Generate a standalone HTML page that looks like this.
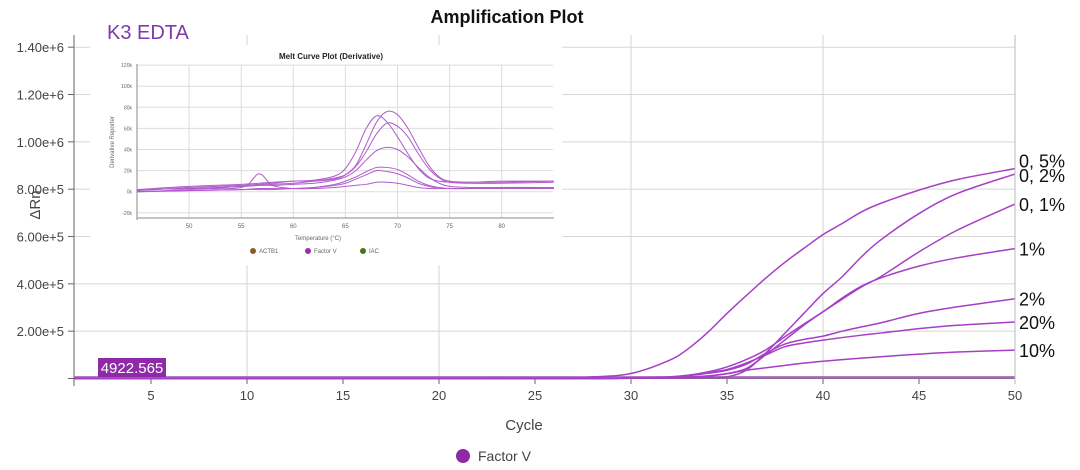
<!DOCTYPE html>
<html><head><meta charset="utf-8"><style>
body{margin:0;background:#fff;width:1080px;height:470px;overflow:hidden;font-family:"Liberation Sans",sans-serif}
svg{display:block}
</style></head><body>
<svg id="chart" width="1080" height="470"></svg>
<script>
// ---- Amplification data ----
const cycles=[1,25,28,30,32,33,34,35,36,37,38,39,40,41,42,43,45,47,50];
const seriesNames=["0, 5%","0, 2%","0, 1%","1%","2%","20%","10%"];
const s05=[0,2,7,21,77,127,195,275,350,423,490,550,608,655,704,740,796,841,887];
const s02=[0,0,0,1,2,3,5,7,35,106,190,275,359,430,514,585,697,782,864];
const s01=[0,0,0,1,3,6,11,21,42,99,162,225,282,335,387,430,535,627,737];
const s1=[0,0,0,2,6,14,28,49,80,120,176,230,282,340,390,425,475,510,549];
const s2=[0,0,0,2,6,12,22,35,60,106,145,165,179,200,218,235,275,303,337];
const s20=[0,0,0,2,7,14,25,38,65,99,134,150,162,173,183,192,211,225,239];
const s10=[0,0,0,1,3,6,10,20,35,45,55,65,73,80,86,92,103,112,120];
const yTicks=[0,200000,400000,600000,800000,1000000,1200000,1400000];
const yTickLabels=["","2.00e+5","4.00e+5","6.00e+5","8.00e+5","1.00e+6","1.20e+6","1.40e+6"];
const xTicks=[5,10,15,20,25,30,35,40,45,50];
const threshold=4922.565;
// ---- Melt data (k) ----
const temps=[45,50,55,56.7,58,60,62,64,65,66,67,68,69,70,71,72,73,74,75,77,80,85];
const mA=[1,4,6,7,8,10,10,12,16,25,45,66,76,73,60,42,25,14,10,9,10,10];
const mB=[2,5,7,8,9,10,11,15,22,38,60,72,66,52,36,22,13,10,9,9,9,10];
const mC=[0,2,5,6,7,8,10,13,16,24,38,55,65,62,52,36,22,13,9,8,8,9];
const mD=[2,3,5,6,6,7,8,11,14,20,30,39,42,40,33,23,14,8,5,4,4,4];
const mE=[0,1,2,3,3,3,4,7,10,14,19,23,23,21,16,10,6,4,3,3,3,3];
const mF=[0,1,2,2,2,3,4,6,8,12,16,20,19,17,13,8,5,3,3,3,3,3];
const mG=[2,3,4,17,6,3,3,4,5,6,7,9,9,8,6,4,3,3,3,3,4,4];
const mYTicks=[-20,0,20,40,60,80,100,120];
const mXTicks=[50,55,60,65,70,75,80];

const svg=document.getElementById('chart');const NS='http://www.w3.org/2000/svg';
function mk(tag,attrs,parent,text){const e=document.createElementNS(NS,tag);for(const k in attrs)e.setAttribute(k,attrs[k]);if(text!==undefined)e.textContent=text;(parent||svg).appendChild(e);return e;}
const X=c=>55+19.2*c, Y=v=>378.5-v*47.33/200000;
function smooth(pts){let d='M'+pts[0][0]+','+pts[0][1];for(let i=0;i<pts.length-1;i++){const p0=pts[i-1]||pts[i],p1=pts[i],p2=pts[i+1],p3=pts[i+2]||p2;d+=' C'+(p1[0]+(p2[0]-p0[0])/6)+','+(p1[1]+(p2[1]-p0[1])/6)+' '+(p2[0]-(p3[0]-p1[0])/6)+','+(p2[1]-(p3[1]-p1[1])/6)+' '+p2[0]+','+p2[1];}return d;}

// grid
[10,20,30,40,50].forEach(c=>{const l=mk('line',{x1:X(c),x2:X(c),y1:35,y2:378,stroke:'#d6d6d6','stroke-width':1});});
yTicks.forEach((v,i)=>{if(i===0)return;const l=mk('line',{x1:74,x2:X(50),y1:Y(v),y2:Y(v),stroke:'#d6d6d6'});
const t=mk('text',{x:64,y:Y(v)+5,'text-anchor':'end','font-size':13,fill:'#444'},svg,yTickLabels[i]);
mk('line',{x1:68,x2:74,y1:Y(v),y2:Y(v),stroke:'#666'});});
mk('line',{x1:74,x2:74,y1:35,y2:386,stroke:'#666',});
mk('line',{x1:68,x2:X(50),y1:378.5,y2:378.5,stroke:'#666',});
xTicks.forEach(c=>{mk('line',{x1:X(c),x2:X(c),y1:378,y2:384,stroke:'#666'});const t=mk('text',{x:X(c),y:400,'text-anchor':'middle','font-size':13,fill:'#444'},svg,String(c));});

// inset melt plot
const g=mk('g',{});
mk('rect',{x:90,y:45,width:472,height:220,fill:'#fff'},g);
const MX=t=>137+(t-45)*10.42, MY=v=>191.7-v*1.055;
mYTicks.forEach(v=>{mk('line',{x1:137,x2:553,y1:MY(v),y2:MY(v),stroke:'#ddd'},g);const t=mk('text',{x:132,y:MY(v)+2,'text-anchor':'end','font-size':5,fill:'#666'},g,v+'k');});
mXTicks.forEach(v=>{mk('line',{x1:MX(v),x2:MX(v),y1:65,y2:218,stroke:'#ddd'},g);const t=mk('text',{x:MX(v),y:228,'text-anchor':'middle','font-size':6,fill:'#666'},g,String(v));});
mk('line',{x1:137,x2:137,y1:64,y2:220,stroke:'#888'},g);mk('line',{x1:137,x2:554,y1:218,y2:218,stroke:'#888'},g);
mk('text',{x:331,y:59,'text-anchor':'middle','font-size':8,'font-weight':'bold',fill:'#222',},g,'Melt Curve Plot (Derivative)');
mk('text',{x:318,y:240,'text-anchor':'middle','font-size':6,fill:'#666',},g,'Temperature (°C)');
mk('text',{x:114,y:142,'text-anchor':'middle','font-size':6,fill:'#666',transform:'rotate(-90 114 142)',},g,'Derivative Reporter');
[[253,'#8b5a2b','ACTB1'],[308,'#9b2fae','Factor V'],[363,'#3e7a16','IAC']].forEach(([x,c,n])=>{mk('circle',{cx:x,cy:251,r:3,fill:c},g);const t=mk('text',{x:x+6,y:253,'font-size':6,fill:'#666'},g,n);});
[mA,mB,mC,mD,mE,mF,mG].forEach(s=>{const p=mk('path',{d:smooth(temps.map((t,i)=>[MX(t),MY(s[i])])),fill:'none',stroke:'#b15ccc','stroke-width':1},g);});

// amplification curves
mk('line',{x1:74,x2:X(50),y1:Y(threshold),y2:Y(threshold),stroke:'#a46bb8','stroke-width':2.5,});
const allS=[s05,s02,s01,s1,s2,s20,s10];
allS.forEach((s,k)=>{const p=mk('path',{d:smooth(cycles.map((c,i)=>[X(c),Y(s[i]*1000)])),fill:'none',stroke:'#a63fc6','stroke-width':1.5});
const t=mk('text',{x:1019,y:Y(s[s.length-1]*1000)+(k===0?-1:k===1?8:7),'font-size':18,fill:'#111'},svg,seriesNames[k]);});
mk('line',{x1:X(50),x2:X(50),y1:35,y2:384,stroke:'#bbb'});

mk('rect',{x:98,y:358,width:68,height:19,fill:'#8e2aa8',});
mk('text',{x:132,y:373,'text-anchor':'middle','font-size':15,fill:'#fff',},svg,'4922.565');
mk('text',{x:507,y:23,'text-anchor':'middle','font-size':18,'font-weight':'bold',fill:'#111',},svg,'Amplification Plot');
mk('text',{x:107,y:39,'font-size':20,fill:'#7e3aa8',},svg,'K3 EDTA');
mk('text',{x:40,y:205,'text-anchor':'middle','font-size':15,fill:'#444',transform:'rotate(-90 40 205)',},svg,'ΔRn');
mk('text',{x:524,y:430,'text-anchor':'middle','font-size':15,fill:'#444',},svg,'Cycle');
mk('circle',{cx:463,cy:456,r:7,fill:'#8e2aa8',});
mk('text',{x:478,y:461,'font-size':14,fill:'#444',},svg,'Factor V');
</script>
</body></html>
